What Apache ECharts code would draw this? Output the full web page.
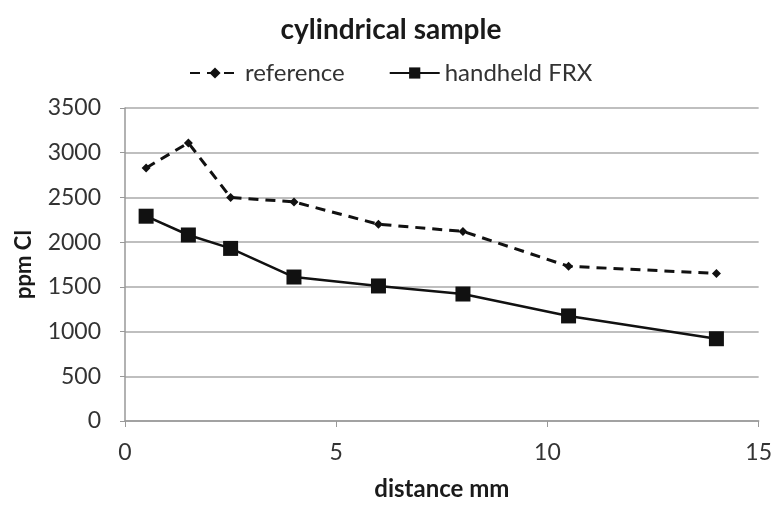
<!DOCTYPE html>
<html><head><meta charset="utf-8">
<script src="https://cdn.jsdelivr.net/npm/echarts@6/dist/echarts.min.js"></script>
<style>html,body{margin:0;padding:0;background:#fff}#c{width:775px;height:506px}</style>
</head><body><div id="c"></div>
<script>
const distance = [0.5, 1.5, 2.5, 4, 6, 8, 10.5, 14];
const referenceVals = [2830, 3110, 2500, 2450, 2200, 2120, 1730, 1650];
const handheldVals = [2290, 2080, 1930, 1610, 1510, 1420, 1175, 920];
const seriesNames = ['reference', 'handheld FRX'];
const FONT = 'Lato';
const chart = echarts.init(document.getElementById('c'));
chart.setOption({
  animation: false,
  backgroundColor: '#fff',
  title: { text: 'cylindrical sample', left: 386, top: 11, textAlign: 'center',
    textStyle: { fontFamily: FONT, fontSize: 28, fontWeight: 'bold', color: '#1a1a1a' } },
  legend: { top: 56, left: 184, itemWidth: 50, itemHeight: 14, itemGap: 44,
    textStyle: { fontFamily: FONT, fontSize: 24, color: '#333' },
    data: seriesNames },
  grid: { left: 125, right: 10, top: 108, bottom: 85 },
  xAxis: { type: 'value', min: 0, max: 15, interval: 5,
    name: 'distance mm', nameLocation: 'middle', nameGap: 56,
    nameTextStyle: { fontFamily: FONT, fontSize: 24, fontWeight: 'bold', color: '#1a1a1a' },
    axisLine: { lineStyle: { color: '#999', width: 1.5 } },
    axisTick: { show: true, length: 6, lineStyle: { color: '#999' } },
    axisLabel: { fontFamily: FONT, fontSize: 23, color: '#333', margin: 20 },
    splitLine: { show: false } },
  yAxis: { type: 'value', min: 0, max: 3500, interval: 500,
    name: 'ppm Cl', nameLocation: 'middle', nameGap: 90, nameRotate: 90,
    nameTextStyle: { fontFamily: FONT, fontSize: 22, fontWeight: 'bold', color: '#1a1a1a' },
    axisLine: { show: true, lineStyle: { color: '#999', width: 1.5 } },
    axisTick: { show: true, length: 5, lineStyle: { color: '#999' } },
    axisLabel: { fontFamily: FONT, fontSize: 23, color: '#333', margin: 24,
      formatter: v => String(v) },
    splitLine: { lineStyle: { color: '#aaa', width: 1.5 } } },
  series: [
    { name: seriesNames[0], type: 'line', data: distance.map((d, i) => [d, referenceVals[i]]),
      symbol: 'diamond', symbolSize: 9,
      lineStyle: { color: '#111', width: 3, type: [10, 7] },
      itemStyle: { color: '#111' } },
    { name: seriesNames[1], type: 'line', data: distance.map((d, i) => [d, handheldVals[i]]),
      symbol: 'rect', symbolSize: 15,
      lineStyle: { color: '#111', width: 2.5 },
      itemStyle: { color: '#111' } }
  ]
});
</script></body></html>
